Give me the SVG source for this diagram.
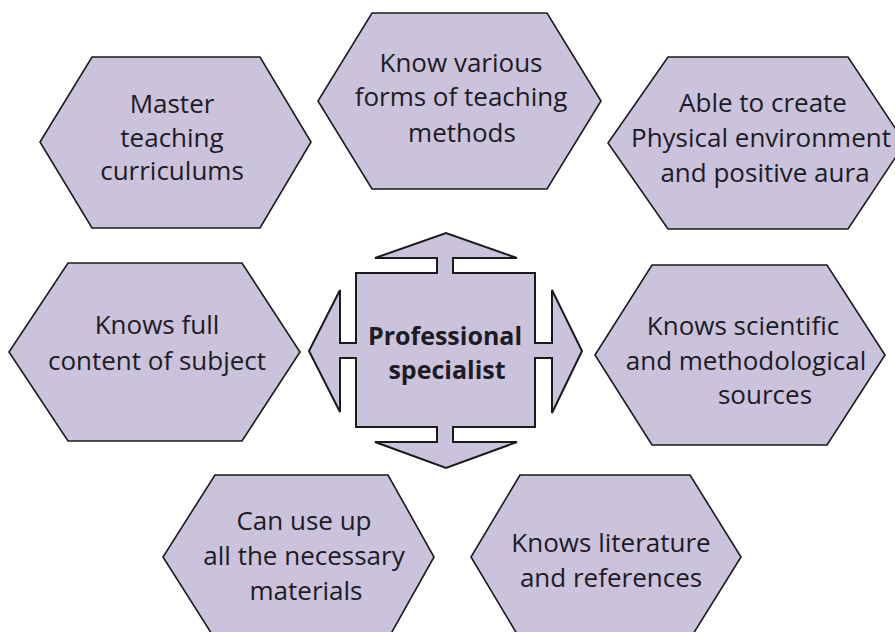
<svg xmlns="http://www.w3.org/2000/svg" width="895" height="632" viewBox="0 0 895 632">
<style>
.hex{fill:#cbc2db;stroke:#1a1a1a;stroke-width:1.6;stroke-linejoin:miter}
.lbl{font-family:"Open Sans","Noto Sans","Liberation Sans",sans-serif;font-size:26px;fill:#1c1c24;text-anchor:middle}
.ctr{font-family:"Open Sans","Noto Sans","Liberation Sans",sans-serif;font-size:25px;font-weight:bold;fill:#1c1c24;text-anchor:middle}
.arr{fill:#cbc2db;stroke:#1a1a1a;stroke-width:2;stroke-linejoin:miter}
</style>
<rect width="895" height="632" fill="#ffffff"/>
<g id="connectors">
<polygon class="arr" points="437,290 437,258 375,258 446,233 517,258 453,258 453,290"/>
<polygon class="arr" points="520,343 552,343 552,290 582,351 552,413 552,358 520,358"/>
<polygon class="arr" points="437,410 437,442 375,442 446,468 517,442 453,442 453,410"/>
<polygon class="arr" points="372,343 340,343 340,290 309,351 340,412 340,358 372,358"/>
</g>
<g id="center">
<rect x="356" y="273" width="179" height="154" fill="#cbc2db"/>
<path d="M437,273 L356,273 L356,343 M356,358 L356,427 L437,427 M453,427 L535,427 L535,358 M535,343 L535,273 L453,273" fill="none" stroke="#1a1a1a" stroke-width="2" stroke-linejoin="miter" stroke-linecap="square"/>
<text class="ctr" x="445" y="345">Professional</text>
<text class="ctr" x="447" y="379">specialist</text>
</g>
<g id="n1">
<polygon class="hex" points="92,57 260,57 311,142 260,228 92,228 40,142"/>
<text class="lbl" x="172" y="113">Master</text>
<text class="lbl" x="172" y="147">teaching</text>
<text class="lbl" x="172" y="180">curriculums</text>
</g>
<g id="n2">
<polygon class="hex" points="372,13 547,13 601,101 547,189 372,189 318,101"/>
<text class="lbl" x="461" y="72">Know various</text>
<text class="lbl" x="461" y="106">forms of teaching</text>
<text class="lbl" x="462" y="142">methods</text>
</g>
<g id="n3">
<polygon class="hex" points="668,57 848,57 905,143 848,229 668,229 608,143"/>
<text class="lbl" x="763" y="112">Able to create</text>
<text class="lbl" x="761" y="147">Physical environment</text>
<text class="lbl" x="765" y="182">and positive aura</text>
</g>
<g id="n4">
<polygon class="hex" points="68,263 242,263 300,352 242,441 68,441 9,352"/>
<text class="lbl" x="157" y="334">Knows full</text>
<text class="lbl" x="157" y="370">content of subject</text>
</g>
<g id="n5">
<polygon class="hex" points="652,265 827,265 885,355 827,445 652,445 595,355"/>
<text class="lbl" x="743" y="335">Knows scientific</text>
<text class="lbl" x="746" y="370">and methodological</text>
<text class="lbl" x="765" y="404">sources</text>
</g>
<g id="n6">
<polygon class="hex" points="215,475 388,475 434,557 388,639 215,639 163,557"/>
<text class="lbl" x="304" y="530">Can use up</text>
<text class="lbl" x="304" y="565">all the necessary</text>
<text class="lbl" x="306" y="600">materials</text>
</g>
<g id="n7">
<polygon class="hex" points="520,475 690,475 741,557 690,639 520,639 471,557"/>
<text class="lbl" x="611" y="552">Knows literature</text>
<text class="lbl" x="611" y="587">and references</text>
</g>
</svg>
